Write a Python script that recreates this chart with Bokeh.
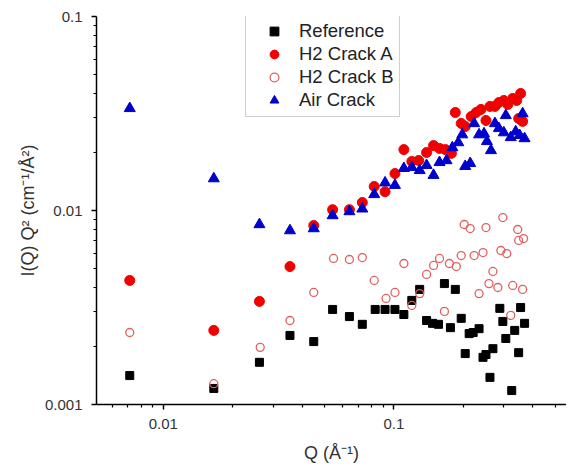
from bokeh.plotting import figure
from bokeh.models import Range1d, FixedTicker, Legend, LegendItem, CustomJSTickFormatter
from bokeh.embed import file_html
from bokeh.resources import INLINE

# ---- data ----
ref_q = [0.00715, 0.01655, 0.0261, 0.0354, 0.0449, 0.0542, 0.0641, 0.0729, 0.0829, 0.0915,
         0.101, 0.1104, 0.1195, 0.1293, 0.1385, 0.147, 0.156, 0.1655, 0.1757, 0.1845,
         0.1957, 0.2037, 0.2119, 0.2205, 0.2339, 0.2433, 0.2506, 0.2608, 0.2686, 0.2878,
         0.2966, 0.3055, 0.3241, 0.3339, 0.3473, 0.3542, 0.3685]
ref_i = [0.00141, 0.00121, 0.00165, 0.00227, 0.00211, 0.00309, 0.00284, 0.00259, 0.00309, 0.00309,
         0.00309, 0.00291, 0.00344, 0.00392, 0.00271, 0.00262, 0.00259, 0.0042, 0.00249, 0.00392,
         0.00278, 0.00183, 0.00232, 0.00235, 0.00246, 0.00175, 0.00181, 0.00138, 0.00194, 0.00313,
         0.00268, 0.00219, 0.00118, 0.00241, 0.00185, 0.00316, 0.00262]

a_q = [0.00715, 0.01655, 0.0261, 0.0354, 0.0449, 0.0542, 0.0641, 0.0729, 0.0821, 0.0915,
       0.101, 0.1104, 0.1195, 0.128, 0.1385, 0.1485, 0.1576, 0.1672, 0.1774, 0.1845,
       0.1957, 0.2037, 0.2162, 0.2271, 0.2385, 0.2506, 0.2608, 0.2741, 0.285, 0.2995,
       0.3116, 0.3273, 0.3405, 0.3542, 0.3473, 0.3613]
a_i = [0.00436, 0.00241, 0.0034, 0.00514, 0.00837, 0.0101, 0.0101, 0.011, 0.0133, 0.0125,
       0.0155, 0.0206, 0.0179, 0.0181, 0.0199, 0.0216, 0.0209, 0.0206, 0.0197, 0.032,
       0.0281, 0.0271, 0.0305, 0.032, 0.0332, 0.0291, 0.0344, 0.0344, 0.036, 0.0369,
       0.0352, 0.0378, 0.0369, 0.0401, 0.0298, 0.0288]

b_q = [0.00715, 0.01655, 0.0263, 0.0354, 0.0449, 0.0547, 0.0641, 0.0729, 0.0821, 0.0924,
       0.101, 0.1104, 0.1195, 0.1293, 0.1385, 0.1485, 0.1576, 0.1655, 0.1739, 0.1864,
       0.1957, 0.2017, 0.2141, 0.2227, 0.2339, 0.2433, 0.2506, 0.2582, 0.2686, 0.2822,
       0.2908, 0.2966, 0.3085, 0.3209, 0.3273, 0.344, 0.3473, 0.3613, 0.3649]
b_i = [0.00235, 0.00128, 0.00197, 0.00271, 0.00378, 0.00566, 0.00559, 0.00572, 0.00436, 0.00352,
       0.00378, 0.00533, 0.00324, 0.00373, 0.00468, 0.00521, 0.00566, 0.00302, 0.00533, 0.00514,
       0.00586, 0.00847, 0.00807, 0.00586, 0.00373, 0.00607, 0.00817, 0.0042, 0.00485, 0.00401,
       0.00622, 0.0092, 0.006, 0.00288, 0.00411, 0.00798, 0.00701, 0.00392, 0.00717]

air_q = [0.00715, 0.01655, 0.0261, 0.0354, 0.0449, 0.0542, 0.0641, 0.0729, 0.0821, 0.0915,
         0.101, 0.1104, 0.1195, 0.1293, 0.1385, 0.1485, 0.1576, 0.169, 0.1792, 0.1901,
         0.1978, 0.2037, 0.2141, 0.2227, 0.2339, 0.2458, 0.2531, 0.2634, 0.2741, 0.285,
         0.2995, 0.3055, 0.3209, 0.3372, 0.3508, 0.3613, 0.3685]
air_i = [0.0336, 0.0146, 0.00847, 0.00788, 0.00807, 0.00942, 0.00988, 0.0102, 0.0121, 0.0139,
         0.0135, 0.0165, 0.0167, 0.0161, 0.0171, 0.0152, 0.0177, 0.0181, 0.0211, 0.0224,
         0.0246, 0.0169, 0.0175, 0.0281, 0.0246, 0.0249, 0.0227, 0.0204, 0.0281, 0.0265,
         0.0252, 0.0309, 0.0238, 0.0255, 0.0244, 0.0316, 0.0235]

series_names = ["Reference", "H2 Crack A", "H2 Crack B", "Air Crack"]
x_major = [0.01, 0.1]
y_major = [0.001, 0.01, 0.1]
x_minor = [0.006, 0.007, 0.008, 0.009, 0.02, 0.03, 0.04, 0.05, 0.06, 0.07, 0.08, 0.09,
           0.2, 0.3, 0.4, 0.5]
y_minor = [0.002, 0.003, 0.004, 0.005, 0.006, 0.007, 0.008, 0.009,
           0.02, 0.03, 0.04, 0.05, 0.06, 0.07, 0.08, 0.09]

FONT = "Liberation Sans"

p = figure(width=566, height=466, x_axis_type="log", y_axis_type="log",
           x_range=Range1d(0.00513, 0.56), y_range=Range1d(0.001, 0.1),
           output_backend="svg", toolbar_location=None,
           min_border_left=96, min_border_right=0, min_border_top=16, min_border_bottom=62)
p.outline_line_color = None
p.xgrid.visible = False
p.ygrid.visible = False
p.background_fill_color = "white"

r_ref = p.scatter(ref_q, ref_i, marker="square", size=8, fill_color="black", line_color="black")
r_a = p.scatter(a_q, a_i, marker="circle", size=10, fill_color="#f00000", line_color="#f00000")
r_b = p.scatter(b_q, b_i, marker="circle", size=8, fill_color=None, line_color="#e06060", line_width=1.3)
r_air = p.scatter(air_q, air_i, marker="triangle", size=11, fill_color="#0000cc", line_color="#0000cc")

fmt = CustomJSTickFormatter(code="return tick.toString();")
for ax, maj, mnr in ((p.xaxis[0], x_major, x_minor), (p.yaxis[0], y_major, y_minor)):
    ax.ticker = FixedTicker(ticks=maj, minor_ticks=mnr)
    ax.formatter = fmt
    ax.axis_line_width = 1.5
    ax.axis_line_color = "black"
    ax.major_tick_line_width = 1.5
    ax.minor_tick_line_width = 1.2
    ax.major_tick_out = 5
    ax.major_tick_in = 0
    ax.minor_tick_out = 3
    ax.minor_tick_in = 0
    ax.major_label_text_font = FONT
    ax.major_label_text_font_size = "15px"
    ax.major_label_text_color = "#333333"
    ax.axis_label_text_font = FONT
    ax.axis_label_text_font_size = "18px"
    ax.axis_label_text_font_style = "normal"
    ax.axis_label_text_color = "#333333"

p.xaxis.major_label_standoff = 9
p.yaxis.major_label_standoff = 9
p.yaxis.axis_label = "I(Q) Q² (cm⁻¹/Å²)"
p.yaxis.axis_label_standoff = 4
p.xaxis.axis_label = "Q (Å⁻¹)"
p.xaxis.axis_label_standoff = 11

legend = Legend(items=[LegendItem(label=series_names[0], renderers=[r_ref]),
                       LegendItem(label=series_names[1], renderers=[r_a]),
                       LegendItem(label=series_names[2], renderers=[r_b]),
                       LegendItem(label=series_names[3], renderers=[r_air])],
                location=(149, 287), margin=0, padding=5, spacing=1,
                glyph_width=46, glyph_height=22, label_height=22, label_standoff=2,
                label_text_font=FONT, label_text_font_size="18.5px", label_text_color="#222222",
                border_line_color="#a0a0a0", border_line_width=1, background_fill_color="white")
p.add_layout(legend)

open("out.html", "w").write(file_html(p, INLINE))
